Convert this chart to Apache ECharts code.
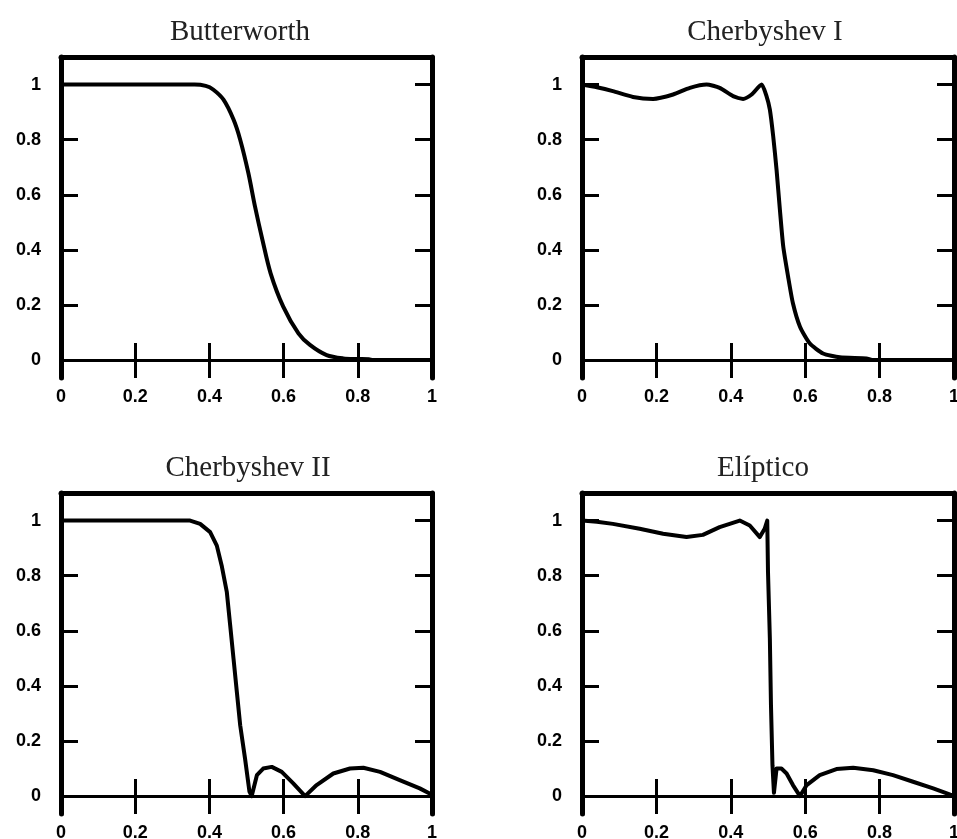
<!DOCTYPE html>
<html>
<head>
<meta charset="utf-8">
<script src="https://cdn.jsdelivr.net/npm/echarts@6/dist/echarts.min.js"></script>
<style>
html,body{margin:0;padding:0;background:#fff;}
#chart{width:957px;height:839px;}
</style>
</head>
<body>
<div id="chart"></div>
<script>
// ---- data ----
const titles = ['Butterworth', 'Cherbyshev I', 'Cherbyshev II', 'Elíptico'];
const tickValues = [0, 0.2, 0.4, 0.6, 0.8, 1];

const butterX = [0, 0.1, 0.2, 0.3, 0.36, 0.39, 0.41, 0.438, 0.465, 0.483, 0.505, 0.523, 0.543, 0.565, 0.599, 0.640, 0.671, 0.716, 0.761, 0.80, 0.83, 0.84, 1.0];
const butterY = [1, 1, 1, 1, 1, 0.995, 0.982, 0.945, 0.873, 0.80, 0.679, 0.557, 0.436, 0.315, 0.194, 0.097, 0.055, 0.018, 0.006, 0.004, 0.003, 0, 0];

const cheb1X = [0, 0.04, 0.083, 0.137, 0.191, 0.245, 0.29, 0.335, 0.37, 0.406, 0.433, 0.456, 0.483, 0.496, 0.505, 0.514, 0.523, 0.532, 0.541, 0.554, 0.567, 0.586, 0.612, 0.648, 0.693, 0.765, 0.78, 1.0];
const cheb1Y = [1, 0.99, 0.976, 0.955, 0.948, 0.964, 0.988, 1.0, 0.988, 0.958, 0.948, 0.964, 1.0, 0.958, 0.909, 0.812, 0.691, 0.545, 0.412, 0.303, 0.206, 0.121, 0.061, 0.024, 0.01, 0.006, 0, 0];

const cheb2X = [0, 0.1, 0.2, 0.3, 0.348, 0.375, 0.402, 0.42, 0.433, 0.447, 0.456, 0.465, 0.474, 0.483, 0.496, 0.508, 0.514, 0.528, 0.545, 0.568, 0.595, 0.626, 0.658, 0.689, 0.734, 0.779, 0.815, 0.86, 0.913, 0.967, 1.0];
const cheb2Y = [1, 1, 1, 1, 1, 0.988, 0.958, 0.909, 0.837, 0.74, 0.62, 0.499, 0.378, 0.257, 0.137, 0.016, 0, 0.076, 0.1, 0.106, 0.088, 0.046, 0, 0.04, 0.082, 0.1, 0.103, 0.088, 0.058, 0.028, 0.005];

const ellipX = [0, 0.04, 0.083, 0.155, 0.218, 0.281, 0.325, 0.37, 0.424, 0.451, 0.478, 0.491, 0.498, 0.500, 0.505, 0.508, 0.512, 0.516, 0.523, 0.536, 0.55, 0.567, 0.586, 0.604, 0.639, 0.684, 0.729, 0.783, 0.836, 0.89, 0.944, 0.99, 1.0];
const ellipY = [1, 0.996, 0.988, 0.97, 0.952, 0.94, 0.948, 0.976, 1.0, 0.982, 0.94, 0.97, 1.0, 0.813, 0.571, 0.33, 0.112, 0.012, 0.1, 0.1, 0.082, 0.04, 0, 0.04, 0.076, 0.098, 0.103, 0.094, 0.076, 0.052, 0.028, 0.005, 0.003];

// ---- layout ----
const grids = [
  { left: 61, top: 57, width: 371, height: 321, outerBoundsMode: 'none', containLabel: false },
  { left: 582, top: 57, width: 372, height: 321, outerBoundsMode: 'none', containLabel: false },
  { left: 61, top: 493, width: 371, height: 321, outerBoundsMode: 'none', containLabel: false },
  { left: 582, top: 493, width: 372, height: 321, outerBoundsMode: 'none', containLabel: false }
];
const titlePos = [
  { x: 235, y: 13 },
  { x: 760, y: 13 },
  { x: 243, y: 449 },
  { x: 758, y: 449 }
];
const seriesXY = [[butterX, butterY], [cheb1X, cheb1Y], [cheb2X, cheb2Y], [ellipX, ellipY]];
const smoothing = [0.3, 0.2, false, false];

const black = '#000';
const labelFont = { color: black, fontFamily: 'Liberation Sans', fontWeight: 'bold', fontSize: 18 };
const yMin = -0.065, yMax = 1.1;

const xAxes = [], yAxes = [], series = [], titleOpts = [];
grids.forEach((g, i) => {
  titleOpts.push({
    text: titles[i], left: titlePos[i].x, top: titlePos[i].y, textAlign: 'center',
    textStyle: { fontFamily: 'Liberation Serif', fontWeight: 'normal', fontSize: 29, color: '#222' }
  });
  // bottom x axis: ticks and labels (no line)
  xAxes.push({
    gridIndex: i, type: 'value', min: 0, max: 1, interval: 0.2, position: 'bottom',
    axisLine: { show: false, onZero: false },
    axisTick: { show: true, inside: true, length: 35, lineStyle: { color: black, width: 3 } },
    axisLabel: Object.assign({ margin: 10, showMinLabel: true, showMaxLabel: true }, labelFont),
    splitLine: { show: false }
  });
  // top x axis: frame line
  xAxes.push({
    gridIndex: i, type: 'value', min: 0, max: 1, position: 'top',
    axisLine: { show: true, onZero: false, lineStyle: { color: black, width: 5 } },
    axisTick: { show: false }, axisLabel: { show: false }, splitLine: { show: false }
  });
  // left y axis
  yAxes.push({
    gridIndex: i, type: 'value', min: yMin, max: yMax, position: 'left',
    axisLine: { show: true, onZero: false, lineStyle: { color: black, width: 5 } },
    axisTick: { show: true, inside: true, length: 17, customValues: tickValues.slice(1), lineStyle: { color: black, width: 3 } },
    axisLabel: Object.assign({ margin: 20, customValues: tickValues, align: 'right' }, labelFont),
    splitLine: { show: false }
  });
  // right y axis
  yAxes.push({
    gridIndex: i, type: 'value', min: yMin, max: yMax, position: 'right',
    axisLine: { show: true, onZero: false, lineStyle: { color: black, width: 5 } },
    axisTick: { show: true, inside: true, length: 17, customValues: tickValues.slice(1), lineStyle: { color: black, width: 3 } },
    axisLabel: { show: false },
    splitLine: { show: false }
  });
  const [xs, ys] = seriesXY[i];
  series.push({
    type: 'line', name: titles[i], xAxisIndex: i * 2, yAxisIndex: i * 2,
    data: xs.map((x, k) => [x, ys[k]]),
    showSymbol: false, symbol: 'none', smooth: smoothing[i], silent: true,
    lineStyle: { color: black, width: 4, join: 'round', cap: 'round' },
    markLine: {
      silent: true, symbol: ['none', 'none'], label: { show: false },
      lineStyle: { color: black, width: 3, type: 'solid' },
      data: [{ yAxis: 0 }]
    },
    z: 3
  });
});

const chart = echarts.init(document.getElementById('chart'), null, { renderer: 'canvas' });
chart.setOption({
  backgroundColor: '#fff',
  animation: false,
  title: titleOpts,
  grid: grids,
  xAxis: xAxes,
  yAxis: yAxes,
  series: series
});
</script>
</body>
</html>
